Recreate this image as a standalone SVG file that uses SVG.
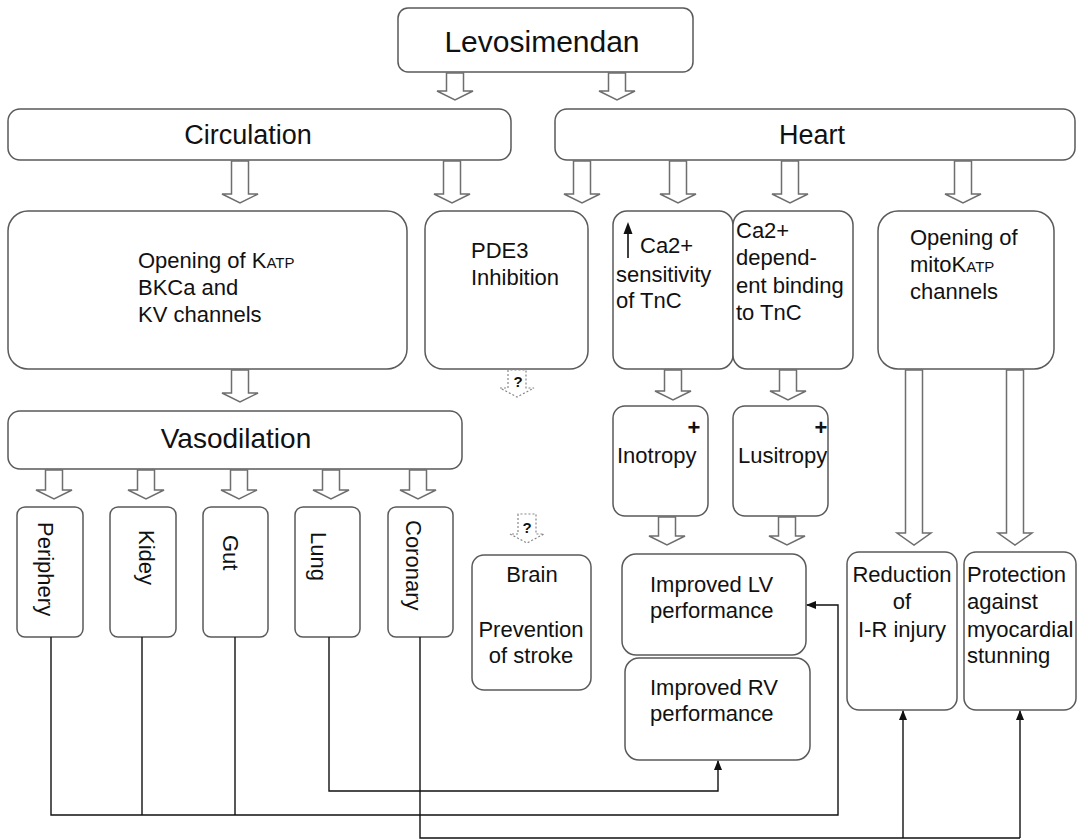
<svg xmlns="http://www.w3.org/2000/svg" width="1084" height="840" viewBox="0 0 1084 840">
<style>
.box{fill:#fff;stroke:#5a5a5a;stroke-width:1.5}
.t{font-family:"Liberation Sans",Arial,sans-serif;font-size:22px;fill:#111}
.big{font-family:"Liberation Sans",Arial,sans-serif;font-size:27px;fill:#111;text-anchor:middle}
.sub{font-size:15px}
.ha{fill:#fff;stroke:#6e6e6e;stroke-width:1.5;stroke-linejoin:miter}
.da{fill:#fff;stroke:#888;stroke-width:1.2;stroke-dasharray:2 2}
.q{font-family:"Liberation Sans",Arial,sans-serif;font-size:15px;font-weight:bold;fill:#111;text-anchor:middle}
.c{fill:none;stroke:#111;stroke-width:1.4}
.m{text-anchor:middle}
</style>
<defs>
<marker id="ah" markerWidth="10" markerHeight="10" refX="9" refY="5" orient="auto" markerUnits="userSpaceOnUse">
<path d="M0,1 L10,5 L0,9 Z" fill="#111"/>
</marker>
</defs>
<rect width="1084" height="840" fill="#fff"/>

<g id="levosimendan"><rect class="box" x="398" y="8" width="295" height="64" rx="10"/><text class="big" x="542" y="52" style="font-size:30px">Levosimendan</text></g>
<g id="circulation"><rect class="box" x="8" y="109" width="503" height="51" rx="12"/><text class="big" x="248" y="144">Circulation</text></g>
<g id="heart"><rect class="box" x="555" y="109" width="520" height="51" rx="12"/><text class="big" x="812" y="144">Heart</text></g>

<g id="opening-katp"><rect class="box" x="8" y="211" width="399" height="158" rx="20"/>
<text class="t" x="138" y="268">Opening of K<tspan class="sub">ATP</tspan></text>
<text class="t" x="138" y="295">BKCa and</text>
<text class="t" x="138" y="322">KV channels</text></g>

<g id="pde3"><rect class="box" x="425" y="211" width="163" height="158" rx="18"/>
<text class="t" x="471" y="258">PDE3</text><text class="t" x="471" y="285">Inhibition</text></g>

<g id="ca-sensitivity"><rect class="box" x="613" y="211" width="120" height="158" rx="14"/>
<line x1="628" y1="258" x2="628" y2="232" stroke="#111" stroke-width="1.6"/><path d="M623.5,234 L628,222 L632.5,234 Z" fill="#111"/>
<text class="t" x="640" y="253">Ca2+</text><text class="t" x="616" y="282">sensitivity</text><text class="t" x="616" y="308">of TnC</text></g>

<g id="ca-binding"><rect class="box" x="733" y="211" width="120" height="158" rx="14"/>
<text class="t" x="736" y="238">Ca2+</text><text class="t" x="736" y="265">depend-</text><text class="t" x="736" y="293">ent binding</text><text class="t" x="736" y="320">to TnC</text></g>

<g id="mito-katp"><rect class="box" x="878" y="211" width="176" height="158" rx="20"/>
<text class="t" x="910" y="245">Opening of</text><text class="t" x="910" y="272">mitoK<tspan class="sub">ATP</tspan></text><text class="t" x="910" y="299">channels</text></g>

<g id="vasodilation"><rect class="box" x="8" y="411" width="454" height="58" rx="12"/><text class="big" x="236" y="448" style="font-size:28px">Vasodilation</text></g>

<g id="inotropy"><rect class="box" x="613" y="406" width="95" height="110" rx="12"/>
<text class="t m" x="694" y="435" style="font-weight:bold">+</text><text class="t" x="617" y="463">Inotropy</text></g>
<g id="lusitropy"><rect class="box" x="733" y="406" width="95" height="110" rx="12"/>
<text class="t m" x="821" y="435" style="font-weight:bold">+</text><text class="t" x="738" y="463">Lusitropy</text></g>

<g id="periphery"><rect class="box" x="17" y="507" width="66" height="130" rx="8"/><text class="t" transform="translate(45,522) rotate(90)" dominant-baseline="central">Periphery</text></g>
<g id="kidey"><rect class="box" x="110" y="507" width="66" height="130" rx="8"/><text class="t" transform="translate(146,530) rotate(90)" dominant-baseline="central">Kidey</text></g>
<g id="gut"><rect class="box" x="203" y="507" width="65" height="130" rx="8"/><text class="t" transform="translate(230,535) rotate(90)" dominant-baseline="central">Gut</text></g>
<g id="lung"><rect class="box" x="295" y="507" width="65" height="130" rx="8"/><text class="t" transform="translate(318,532) rotate(90)" dominant-baseline="central">Lung</text></g>
<g id="coronary"><rect class="box" x="388" y="507" width="65" height="130" rx="8"/><text class="t" transform="translate(413,520) rotate(90)" dominant-baseline="central">Coronary</text></g>

<g id="brain"><rect class="box" x="472" y="555" width="119" height="135" rx="12"/>
<text class="t m" x="532" y="582">Brain</text><text class="t m" x="531" y="637">Prevention</text><text class="t m" x="531" y="663">of stroke</text></g>

<g id="improved-lv"><rect class="box" x="622" y="554" width="184" height="101" rx="14"/>
<text class="t" x="650" y="592">Improved LV</text><text class="t" x="650" y="618">performance</text></g>
<g id="improved-rv"><rect class="box" x="625" y="658" width="185" height="102" rx="14"/>
<text class="t" x="650" y="695">Improved RV</text><text class="t" x="650" y="721">performance</text></g>

<g id="reduction"><rect class="box" x="847" y="552" width="110" height="158" rx="12"/>
<text class="t m" x="902" y="582">Reduction</text><text class="t m" x="902" y="609">of</text><text class="t m" x="902" y="637">I-R injury</text></g>
<g id="protection"><rect class="box" x="964" y="552" width="112" height="158" rx="12"/>
<text class="t" x="967" y="582">Protection</text><text class="t" x="967" y="609">against</text><text class="t" x="967" y="637">myocardial</text><text class="t" x="967" y="663">stunning</text></g>

<g id="connectors">
<path class="ha" d="M446.5,73 V91 H437 L455,100 L473,91 H463.5 V73 Z"/>
<path class="ha" d="M608.5,73 V91 H599 L617,100 L635,91 H625.5 V73 Z"/>
<path class="ha" d="M231.5,161 V194 H222 L240,203 L258,194 H248.5 V161 Z"/>
<path class="ha" d="M443.5,161 V194 H434 L452,203 L470,194 H460.5 V161 Z"/>
<path class="ha" d="M573.5,161 V194 H564 L582,203 L600,194 H590.5 V161 Z"/>
<path class="ha" d="M669.5,161 V194 H660 L678,203 L696,194 H686.5 V161 Z"/>
<path class="ha" d="M781.5,161 V194 H772 L790,203 L808,194 H798.5 V161 Z"/>
<path class="ha" d="M954.5,161 V194 H945 L963,203 L981,194 H971.5 V161 Z"/>
<path class="ha" d="M231.5,370 V393 H222 L240,402 L258,393 H248.5 V370 Z"/>
<path class="ha" d="M664.5,370 V391 H655 L673,400 L691,391 H681.5 V370 Z"/>
<path class="ha" d="M779.5,370 V391 H770 L788,400 L806,391 H796.5 V370 Z"/>
<path class="ha" d="M45.5,470 V490 H36 L54,499 L72,490 H62.5 V470 Z"/>
<path class="ha" d="M137.5,470 V490 H128 L146,499 L164,490 H154.5 V470 Z"/>
<path class="ha" d="M230.5,470 V490 H221 L239,499 L257,490 H247.5 V470 Z"/>
<path class="ha" d="M322.5,470 V490 H313 L331,499 L349,490 H339.5 V470 Z"/>
<path class="ha" d="M409.5,470 V490 H400 L418,499 L436,490 H426.5 V470 Z"/>
<path class="ha" d="M658.5,517 V536 H649 L667,545 L685,536 H675.5 V517 Z"/>
<path class="ha" d="M778.5,517 V536 H769 L787,545 L805,536 H795.5 V517 Z"/>
<path class="ha" d="M905.5,370 V533 H897 L914,545 L931,533 H922.5 V370 Z"/>
<path class="ha" d="M1006.5,370 V533 H998 L1015,545 L1032,533 H1023.5 V370 Z"/>
<path class="da" d="M508,370 V388 H500 L517,397 L534,388 H526 V370 Z"/>
<text class="q" x="518" y="387">?</text>
<path class="da" d="M518,514 V534 H510 L527,543 L544,534 H536 V514 Z"/>
<text class="q" x="527" y="533">?</text>

<polyline class="c" points="51,637 51,815 838,815 838,605 807,605" marker-end="url(#ah)"/>
<line class="c" x1="142" y1="637" x2="142" y2="815"/>
<line class="c" x1="235" y1="637" x2="235" y2="815"/>
<polyline class="c" points="329,637 329,791 718,791 718,761" marker-end="url(#ah)"/>
<polyline class="c" points="420,637 420,838 1020,838"/>
<line class="c" x1="903" y1="838" x2="903" y2="711" marker-end="url(#ah)"/>
<line class="c" x1="1020" y1="838" x2="1020" y2="711" marker-end="url(#ah)"/>
</g>
</svg>
